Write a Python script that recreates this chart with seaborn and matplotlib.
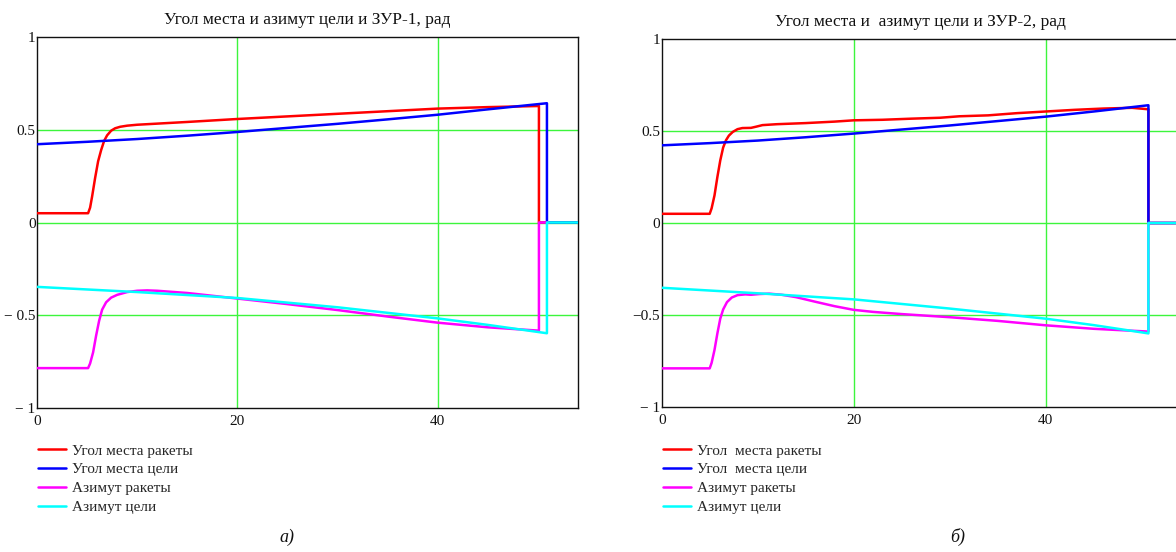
import matplotlib
matplotlib.use("Agg")
import matplotlib.pyplot as plt
import seaborn as sns

# ---- panel a): ЗУР-1 ----
t_el_m1 = [0, 5.1, 5.3, 5.5, 5.8, 6.1, 6.4, 6.7, 7.0, 7.4, 7.8, 8.3, 9.0, 10, 12, 15, 20,
           25, 30, 35, 40, 45, 50.1, 50.1, 54]
el_m1 = [0.05, 0.05, 0.08, 0.14, 0.24, 0.33, 0.39, 0.44, 0.47, 0.495, 0.508, 0.516, 0.522,
         0.527, 0.533, 0.542, 0.558, 0.572, 0.586, 0.600, 0.614, 0.622, 0.628, 0.0, 0.0]

t_el_t1 = [0, 5, 10, 15, 20, 25, 30, 35, 40, 45, 50.9, 50.9, 54]
el_t1 = [0.422, 0.435, 0.45, 0.468, 0.488, 0.51, 0.532, 0.556, 0.581, 0.61, 0.643, 0.0, 0.0]

t_az_m1 = [0, 5.1, 5.3, 5.6, 5.9, 6.2, 6.5, 6.9, 7.4, 8.0, 9.0, 10, 11, 12, 15, 20, 25,
           30, 35, 40, 45, 50.1, 50.1, 51]
az_m1 = [-0.785, -0.785, -0.76, -0.70, -0.61, -0.53, -0.47, -0.43, -0.405, -0.39, -0.375,
         -0.368, -0.366, -0.368, -0.38, -0.41, -0.44, -0.472, -0.507, -0.54, -0.565,
         -0.583, 0.0, 0.0]

t_az_t1 = [0, 10, 20, 30, 40, 45, 50.9, 50.9, 54]
az_t1 = [-0.347, -0.375, -0.407, -0.457, -0.517, -0.552, -0.597, 0.0, 0.0]

# ---- panel б): ЗУР-2 ----
t_el_m2 = [0, 5.0, 5.2, 5.5, 5.8, 6.1, 6.4, 6.7, 7.0, 7.4, 7.9, 8.4, 9.3, 9.8, 10.5, 12,
           15, 18, 20, 23, 26, 29, 31, 34, 37, 40, 43, 46, 49, 50.7, 50.7, 56]
el_m2 = [0.05, 0.05, 0.08, 0.15, 0.25, 0.34, 0.41, 0.45, 0.475, 0.495, 0.51, 0.516, 0.517,
         0.523, 0.532, 0.537, 0.543, 0.551, 0.558, 0.561, 0.567, 0.572, 0.58, 0.585,
         0.597, 0.606, 0.615, 0.622, 0.626, 0.618, 0.0, 0.0]

t_el_t2 = [0, 5, 10, 15, 20, 25, 30, 35, 40, 45, 50.7, 50.7, 56]
el_t2 = [0.422, 0.434, 0.448, 0.466, 0.486, 0.508, 0.53, 0.554, 0.578, 0.606, 0.64, 0.0, 0.0]

t_az_m2 = [0, 5.0, 5.2, 5.5, 5.8, 6.1, 6.4, 6.8, 7.3, 7.9, 8.7, 9.3, 10.2, 11.2, 12.5, 14,
           16, 18, 20, 22, 25, 30, 35, 40, 45, 50.7, 50.7, 56]
az_m2 = [-0.79, -0.79, -0.76, -0.69, -0.60, -0.52, -0.47, -0.43, -0.405, -0.392, -0.388,
         -0.39, -0.386, -0.384, -0.39, -0.403, -0.428, -0.452, -0.472, -0.483, -0.495,
         -0.512, -0.532, -0.556, -0.575, -0.59, 0.0, 0.0]

t_az_t2 = [0, 10, 20, 30, 40, 45, 50.7, 50.7, 56]
az_t2 = [-0.352, -0.382, -0.415, -0.465, -0.52, -0.555, -0.6, 0.0, 0.0]

labels_a = ["Угол места ракеты", "Угол места цели", "Азимут ракеты", "Азимут цели"]
labels_b = ["Угол  места ракеты", "Угол  места цели", "Азимут ракеты", "Азимут цели"]
titles = ["Угол места и азимут цели и ЗУР-1, рад", "Угол места и  азимут цели и ЗУР-2, рад"]
captions = ["а)", "б)"]
x_ticks = [0, 20, 40]
y_ticks = [-1, -0.5, 0, 0.5, 1]
y_ticklabels_a = ["− 1", "− 0.5", "0", "0.5", "1"]
y_ticklabels_b = ["− 1", "−0.5", "0", "0.5", "1"]

colors = ["#ff0000", "#0000ff", "#ff00ff", "#00ffff"]
grid_color = "#3cf53c"

sns.set_style("white")
plt.rcParams["font.family"] = ["Liberation Serif", "DejaVu Serif"]

fig = plt.figure(figsize=(11.76, 5.52), dpi=100)
ax_a = fig.add_axes([37 / 1176, 1 - 408 / 552, 541 / 1176, 371 / 552])
ax_b = fig.add_axes([661.7 / 1176, 1 - 407 / 552, 518.4 / 1176, 368 / 552])

panels = [
    (ax_a, [(t_el_m1, el_m1), (t_el_t1, el_t1), (t_az_m1, az_m1), (t_az_t1, az_t1)],
     labels_a, y_ticklabels_a, titles[0], captions[0], 38, 287),
    (ax_b, [(t_el_m2, el_m2), (t_el_t2, el_t2), (t_az_m2, az_m2), (t_az_t2, az_t2)],
     labels_b, y_ticklabels_b, titles[1], captions[1], 663, 958),
]

for ax, series, labels, yl, title, cap, leg_x, cap_x in panels:
    ax.set_xlim(0, 54)
    ax.set_ylim(-1, 1)
    for xv in x_ticks[1:]:
        ax.axvline(xv, color=grid_color, lw=1.0, zorder=1)
    for yv in [-0.5, 0, 0.5]:
        ax.axhline(yv, color=grid_color, lw=1.0, zorder=1)
    for (tx, ty), c, lab in zip(series, colors, labels):
        sns.lineplot(x=tx, y=ty, ax=ax, color=c, lw=1.8, estimator=None, sort=False,
                     label=lab, zorder=3)
    ax.set_xticks(x_ticks)
    ax.set_xticklabels([str(v) for v in x_ticks])
    ax.set_yticks(y_ticks)
    ax.set_yticklabels(yl)
    ax.tick_params(axis="both", length=0, labelsize=11, colors="#111111")
    ax.tick_params(axis="y", pad=1)
    ax.tick_params(axis="x", pad=5)
    ax.set_xlabel("")
    ax.set_ylabel("")
    for sp in ax.spines.values():
        sp.set_color("#111111")
        sp.set_linewidth(1.0)
    ax.set_title(title, fontsize=12.5, pad=9, color="#111111")
    ax.legend(loc="upper left", bbox_to_anchor=(leg_x / 1176, 1 - 444 / 552),
              bbox_transform=fig.transFigure, frameon=False, fontsize=11,
              handlelength=1.85, handletextpad=0.38, labelspacing=0.33,
              borderaxespad=0, borderpad=0)
    fig.text(cap_x / 1176, 1 - 537 / 552, cap, fontsize=13, style="italic",
             ha="center", va="center", color="#111111")

fig.savefig("out.png", dpi=100)
